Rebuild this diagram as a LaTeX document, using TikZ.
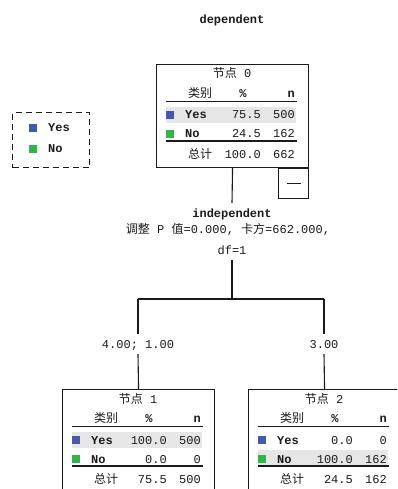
\documentclass[tikz,border=0pt]{standalone}
\usepackage{fontspec}
\setmainfont{Liberation Mono}
\newfontfamily\cjk{Noto Sans CJK SC}
\definecolor{cblue}{HTML}{4458AE}
\definecolor{cgreen}{HTML}{30B54A}
\definecolor{bandgrey}{HTML}{E6E6E6}
\definecolor{ink}{HTML}{1A1A1A}

\newcommand\treenode[9]{%
  \node[nodebox,anchor=north west] (#1) at (0,0) {};
  \fill[bandgrey] (10,-#9) rectangle (140,-#9-16);
  \node[txt] (#1t) at (76,-10) {{\cjk 节点} #2};
  \node[txt] (#1h) at (44,-29.5) {\cjk 类别};
  \node[txt] (#1hp) at (87,-29.5) {\textbf{\%}};
  \node[txt,anchor=east] (#1hn) at (139,-29.5) {\textbf{n}};
  \draw[rulel] (10,-37.5) -- (141,-37.5);
  \node[sq,fill=cblue] (#1sy) at (14,-51) {};
  \node[txt,anchor=west] (#1y) at (29,-51) {\textbf{Yes}};
  \node[txt,anchor=east] (#1yp) at (105,-51) {#3};
  \node[txt,anchor=east] (#1yn) at (139,-51) {#4};
  \node[sq,fill=cgreen] (#1sn) at (14,-70) {};
  \node[txt,anchor=west] (#1n) at (29,-70) {\textbf{No}};
  \node[txt,anchor=east] (#1np) at (105,-70) {#5};
  \node[txt,anchor=east] (#1nn) at (139,-70) {#6};
  \draw[rulel] (10,-77) -- (141,-77);
  \node[txt] (#1s) at (44,-90.5) {\cjk 总计};
  \node[txt,anchor=east] (#1sp) at (105,-90.5) {#7};
  \node[txt,anchor=east] (#1st) at (139,-90.5) {#8};
}

\begin{document}
\begin{tikzpicture}[x=1pt,y=1pt,
  font=\fontsize{12}{14}\selectfont,
  nodebox/.style={draw=ink, line width=1.1pt, minimum width=152pt, minimum height=103pt, inner sep=0pt, fill=white},
  txt/.style={inner sep=0pt, text height=8pt, text depth=0pt, text=ink},
  lbl/.style={txt, inner xsep=2pt, inner ysep=6pt},
  sq/.style={minimum size=8pt, inner sep=0pt},
  rulel/.style={draw=ink, line width=1.3pt},
  conn/.style={draw=ink, line width=1.1pt}]
\useasboundingbox (0,0) rectangle (397,-489);
\clip (0,0) rectangle (397,-489);

\node[txt] (title) at (232,-20) {\textbf{dependent}};

% legend
\node[draw=ink, dash pattern=on 6pt off 4pt, line width=1.1pt, minimum width=77pt, minimum height=55pt, inner sep=0pt, anchor=north west] (legend) at (12,-112) {};
\node[sq, fill=cblue] (lgy) at (33,-128) {};
\node[txt, anchor=west] (lgyt) at (48,-128) {\textbf{Yes}};
\node[sq, fill=cgreen] (lgn) at (33,-149) {};
\node[txt, anchor=west] (lgnt) at (48,-149) {\textbf{No}};

% tree nodes
\begin{scope}[shift={(156,-64)}]
  \treenode{n0}{0}{75.5}{500}{24.5}{162}{100.0}{662}{43}
\end{scope}
\begin{scope}[shift={(62,-389)}]
  \treenode{n1}{1}{100.0}{500}{0.0}{0}{75.5}{500}{43}
\end{scope}
\begin{scope}[shift={(248,-389)}]
  \treenode{n2}{2}{0.0}{0}{100.0}{162}{24.5}{162}{61}
\end{scope}

% collapse toggle
\node[draw=ink, line width=1.1pt, minimum size=30pt, inner sep=0pt, anchor=north east] (tog) at (n0.south east) {};
\draw[conn] ([xshift=-7pt]tog.center) -- ([xshift=7pt]tog.center);

% split labels
\node[lbl] (ind1) at (232,-213) {\textbf{independent}};
\node[txt] (ind2) at (228,-229) {{\cjk 调整} P {\cjk 值}=0.000, {\cjk 卡方}=662.000,};
\node[lbl] (ind3) at (232,-250) {df=1};
\coordinate (bar) at (232,-299);
\coordinate (bl) at (138,-299);
\coordinate (br) at (324,-299);
\node[lbl] (lab1) at (138,-344) {4.00; 1.00};
\node[lbl] (lab2) at (324,-344) {3.00};

% connectors
\draw[conn] (n0.south) -- (ind1.north);
\draw[conn] (ind3.south) -- (bar);
\draw[conn] (bl) -- (br);
\draw[conn] (bl) -- (lab1.north);
\draw[conn] (lab1.south) -- (n1.north);
\draw[conn] (br) -- (lab2.north);
\draw[conn] (lab2.south) -- (n2.north);
\end{tikzpicture}
\end{document}
